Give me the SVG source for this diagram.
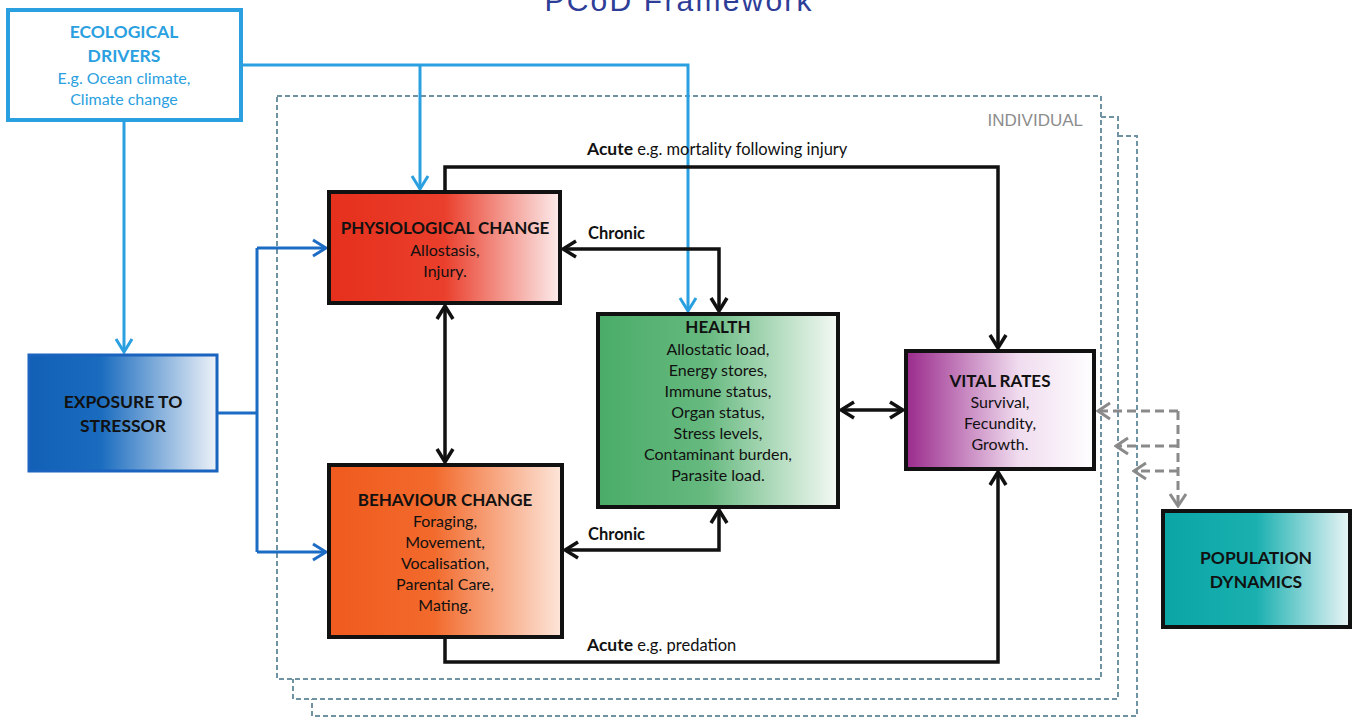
<svg xmlns="http://www.w3.org/2000/svg" width="1352" height="719" viewBox="0 0 1352 719">
<style>
text{font-family:Lato,"Open Sans","Liberation Sans",sans-serif;text-anchor:middle;fill:#111}
.t{font-weight:bold;font-size:17px}
.s{font-size:16px}
.lab{font-size:16.5px;text-anchor:start}
.box{stroke:#111;stroke-width:4}
.ind{fill:none;stroke:#6f93a3;stroke-width:2;stroke-dasharray:5 3}
.blk{fill:none;stroke:#111;stroke-width:3.5}
.lb{fill:none;stroke:#2aa0e0;stroke-width:3}
.db{fill:none;stroke:#1c6cc6;stroke-width:3}
.gd{fill:none;stroke:#8a8a8a;stroke-width:3;stroke-dasharray:9 5}
</style>
<defs>
<marker id="ab" viewBox="-16 -10 18 20" refX="0" refY="0" markerWidth="18" markerHeight="20" markerUnits="userSpaceOnUse" orient="auto-start-reverse"><path d="M-13,-8 L0,0 L-13,8" fill="none" stroke="#111" stroke-width="3.5"/></marker>
<marker id="alb" viewBox="-16 -10 18 20" refX="0" refY="0" markerWidth="18" markerHeight="20" markerUnits="userSpaceOnUse" orient="auto"><path d="M-13,-8 L0,0 L-13,8" fill="none" stroke="#2aa0e0" stroke-width="3"/></marker>
<marker id="adb" viewBox="-16 -10 18 20" refX="0" refY="0" markerWidth="18" markerHeight="20" markerUnits="userSpaceOnUse" orient="auto"><path d="M-13,-8 L0,0 L-13,8" fill="none" stroke="#1c6cc6" stroke-width="3"/></marker>
<marker id="ag" viewBox="-16 -10 18 20" refX="0" refY="0" markerWidth="18" markerHeight="20" markerUnits="userSpaceOnUse" orient="auto"><path d="M-12,-8 L0,0 L-12,8" fill="none" stroke="#8a8a8a" stroke-width="3"/></marker>
<linearGradient id="gPhys" x1="0" y1="0" x2="1" y2="0"><stop offset="0" stop-color="#e5301c"/><stop offset="0.5" stop-color="#ea3f2c"/><stop offset="1" stop-color="#fcecec"/></linearGradient>
<linearGradient id="gBeh" x1="0" y1="0" x2="1" y2="0"><stop offset="0" stop-color="#f05a1e"/><stop offset="0.45" stop-color="#f26a2c"/><stop offset="1" stop-color="#fde6da"/></linearGradient>
<linearGradient id="gHea" x1="0" y1="0" x2="1" y2="0"><stop offset="0" stop-color="#4aac68"/><stop offset="0.45" stop-color="#66b97f"/><stop offset="1" stop-color="#f4f9f4"/></linearGradient>
<linearGradient id="gVit" x1="0" y1="0" x2="1" y2="0"><stop offset="0" stop-color="#9a2a8c"/><stop offset="0.6" stop-color="#f0dcef"/><stop offset="1" stop-color="#ffffff"/></linearGradient>
<linearGradient id="gExp" x1="0" y1="0" x2="1" y2="0"><stop offset="0" stop-color="#1160b6"/><stop offset="0.38" stop-color="#1a6cbf"/><stop offset="1" stop-color="#eef2f8"/></linearGradient>
<linearGradient id="gPop" x1="0" y1="0" x2="1" y2="0"><stop offset="0" stop-color="#0aa5a5"/><stop offset="0.5" stop-color="#1bb0b0"/><stop offset="1" stop-color="#eaf4f6"/></linearGradient>
</defs>
<rect width="1352" height="719" fill="#fff"/>
<text x="678" y="11" style="font-size:30px;fill:#2e3d98;font-family:'Liberation Sans',sans-serif" textLength="267">PCoD Framework</text>

<g id="individual-frames">
<path class="ind" d="M1118,136 L1137,136 L1137,716 L312,716 L312,699"/>
<path class="ind" d="M1101,117 L1118,117 L1118,699 L293,699 L293,679"/>
<rect class="ind" x="277" y="96" width="824" height="583" fill="none"/>
<text x="1083" y="126" style="font-size:17px;fill:#8c8c8c;text-anchor:end;font-family:'Liberation Sans',sans-serif">INDIVIDUAL</text>
</g>

<g id="connectors">
<path class="lb" d="M241,65 L688,65 L688,311" marker-end="url(#alb)"/>
<path class="lb" d="M420,65 L420,189" marker-end="url(#alb)"/>
<path class="lb" d="M124,120 L124,352" marker-end="url(#alb)"/>
<path class="db" d="M217,413 L257,413"/>
<path class="db" d="M257,248 L257,552"/>
<path class="db" d="M257,248 L326,248" marker-end="url(#adb)"/>
<path class="db" d="M257,552 L326,552" marker-end="url(#adb)"/>
<path class="blk" d="M445,192 L445,167 L998,167 L998,348" marker-end="url(#ab)"/>
<path class="blk" d="M563,249 L719,249 L719,311" marker-start="url(#ab)" marker-end="url(#ab)"/>
<path class="blk" d="M445,306 L445,462" marker-start="url(#ab)" marker-end="url(#ab)"/>
<path class="blk" d="M841,410 L903,410" marker-start="url(#ab)" marker-end="url(#ab)"/>
<path class="blk" d="M565,550 L719,550 L719,510" marker-start="url(#ab)" marker-end="url(#ab)"/>
<path class="blk" d="M445,637 L445,662 L998,662 L998,472" marker-end="url(#ab)"/>
<path class="gd" d="M1178,411 L1098,411" marker-end="url(#ag)"/>
<path class="gd" d="M1178,411 L1178,506" marker-end="url(#ag)"/>
<path class="gd" d="M1178,446 L1116,446" marker-end="url(#ag)"/>
<path class="gd" d="M1178,471 L1134,471" marker-end="url(#ag)"/>
<text class="lab" x="587" y="155"><tspan font-weight="bold" font-size="17.5">Acute</tspan> e.g. mortality following injury</text>
<text class="lab" x="588" y="239" font-weight="bold" font-size="18">Chronic</text>
<text class="lab" x="588" y="540" font-weight="bold" font-size="18">Chronic</text>
<text class="lab" x="587" y="651"><tspan font-weight="bold" font-size="17.5">Acute</tspan> e.g. predation</text>
</g>

<g id="ecological-drivers">
<rect x="8" y="10" width="233" height="110" fill="#fff" stroke="#2aa0e0" stroke-width="4"/>
<text class="t" x="124" y="38" style="fill:#2aa0e0;font-size:17.5px">ECOLOGICAL</text>
<text class="t" x="124" y="62" style="fill:#2aa0e0;font-size:17.5px">DRIVERS</text>
<text x="124" y="84" style="fill:#2aa0e0;font-size:16px">E.g. Ocean climate,</text>
<text x="124" y="105" style="fill:#2aa0e0;font-size:16px">Climate change</text>
</g>

<g id="exposure">
<rect x="29" y="355" width="188" height="116" fill="url(#gExp)" stroke="#1a63be" stroke-width="3"/>
<text class="t" x="123" y="408" style="font-size:17.5px">EXPOSURE TO</text>
<text class="t" x="123" y="432" style="font-size:17.5px">STRESSOR</text>
</g>

<g id="physiological">
<rect class="box" x="329" y="192" width="231" height="111" fill="url(#gPhys)"/>
<text class="t" x="445" y="234">PHYSIOLOGICAL CHANGE</text>
<text class="s" x="445" y="256">Allostasis,</text>
<text class="s" x="445" y="277">Injury.</text>
</g>

<g id="behaviour">
<rect class="box" x="329" y="465" width="233" height="172" fill="url(#gBeh)"/>
<text class="t" x="445" y="506">BEHAVIOUR CHANGE</text>
<text class="s" x="445" y="527">Foraging,</text>
<text class="s" x="445" y="548">Movement,</text>
<text class="s" x="445" y="569">Vocalisation,</text>
<text class="s" x="445" y="590">Parental Care,</text>
<text class="s" x="445" y="611">Mating.</text>
</g>

<g id="health">
<rect class="box" x="598" y="314" width="240" height="193" fill="url(#gHea)"/>
<text class="t" x="718" y="333">HEALTH</text>
<text class="s" x="718" y="355">Allostatic load,</text>
<text class="s" x="718" y="376">Energy stores,</text>
<text class="s" x="718" y="397">Immune status,</text>
<text class="s" x="718" y="418">Organ status,</text>
<text class="s" x="718" y="439">Stress levels,</text>
<text class="s" x="718" y="460">Contaminant burden,</text>
<text class="s" x="718" y="481">Parasite load.</text>
</g>

<g id="vital-rates">
<rect class="box" x="906" y="351" width="188" height="118" fill="url(#gVit)"/>
<text class="t" x="1000" y="387">VITAL RATES</text>
<text class="s" x="1000" y="408">Survival,</text>
<text class="s" x="1000" y="429">Fecundity,</text>
<text class="s" x="1000" y="450">Growth.</text>
</g>

<g id="population">
<rect class="box" x="1163" y="511" width="187" height="116" fill="url(#gPop)"/>
<text class="t" x="1256" y="564" style="font-size:17.5px">POPULATION</text>
<text class="t" x="1256" y="588" style="font-size:17.5px">DYNAMICS</text>
</g>
</svg>
